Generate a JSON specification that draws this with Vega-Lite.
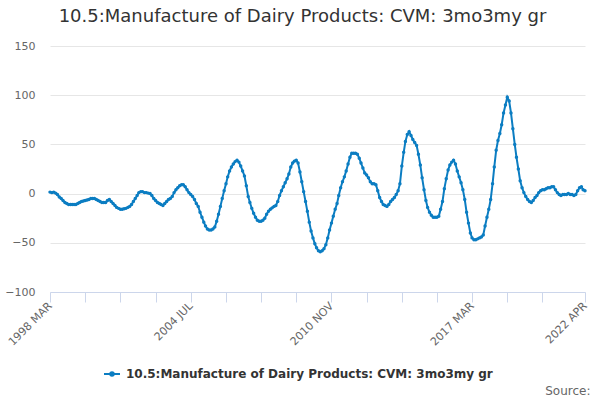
{
  "$schema": "https://vega.github.io/schema/vega-lite/v6.json",
  "autosize": "none",
  "width": 535,
  "height": 246,
  "padding": {"left": 50, "top": 46, "right": 15, "bottom": 108},
  "background": "white",
  "config": {
    "view": {"stroke": null},
    "font": "DejaVu Sans"
  },
  "title": {
    "text": "10.5:Manufacture of Dairy Products: CVM: 3mo3my gr",
    "fontSize": 18,
    "fontWeight": "normal",
    "color": "#333333",
    "font": "DejaVu Sans",
    "anchor": "middle",
    "offset": 14,
    "dx": -15
  },
  "data": {
    "format": {"parse": {"d": "utc:'%Y-%m'"}},
    "values": [
      {"d":"1998-03","v":1.5},{"d":"1998-04","v":1},{"d":"1998-05","v":1.5},{"d":"1998-06","v":0.5},{"d":"1998-07","v":-1},{"d":"1998-08","v":-3.4},{"d":"1998-09","v":-5},{"d":"1998-10","v":-7},{"d":"1998-11","v":-9},{"d":"1998-12","v":-10},
      {"d":"1999-01","v":-11},{"d":"1999-02","v":-11},{"d":"1999-03","v":-11},{"d":"1999-04","v":-11},{"d":"1999-05","v":-11},{"d":"1999-06","v":-10},{"d":"1999-07","v":-9},{"d":"1999-08","v":-8},{"d":"1999-09","v":-7.5},{"d":"1999-10","v":-7},{"d":"1999-11","v":-6.5},{"d":"1999-12","v":-6},
      {"d":"2000-01","v":-5},{"d":"2000-02","v":-5},{"d":"2000-03","v":-5},{"d":"2000-04","v":-6},{"d":"2000-05","v":-7},{"d":"2000-06","v":-8},{"d":"2000-07","v":-9},{"d":"2000-08","v":-9},{"d":"2000-09","v":-9},{"d":"2000-10","v":-7},{"d":"2000-11","v":-6},{"d":"2000-12","v":-8},
      {"d":"2001-01","v":-10},{"d":"2001-02","v":-12},{"d":"2001-03","v":-14},{"d":"2001-04","v":-15},{"d":"2001-05","v":-16},{"d":"2001-06","v":-16},{"d":"2001-07","v":-15.5},{"d":"2001-08","v":-15},{"d":"2001-09","v":-14},{"d":"2001-10","v":-13},{"d":"2001-11","v":-11},{"d":"2001-12","v":-8},
      {"d":"2002-01","v":-5},{"d":"2002-02","v":-2},{"d":"2002-03","v":1},{"d":"2002-04","v":2},{"d":"2002-05","v":2},{"d":"2002-06","v":1},{"d":"2002-07","v":1},{"d":"2002-08","v":0.5},{"d":"2002-09","v":0},{"d":"2002-10","v":-2},{"d":"2002-11","v":-5},{"d":"2002-12","v":-7},
      {"d":"2003-01","v":-9},{"d":"2003-02","v":-10},{"d":"2003-03","v":-11},{"d":"2003-04","v":-12},{"d":"2003-05","v":-10},{"d":"2003-06","v":-8},{"d":"2003-07","v":-6},{"d":"2003-08","v":-5},{"d":"2003-09","v":-3},{"d":"2003-10","v":1},{"d":"2003-11","v":4},{"d":"2003-12","v":6},
      {"d":"2004-01","v":8},{"d":"2004-02","v":9},{"d":"2004-03","v":9},{"d":"2004-04","v":7},{"d":"2004-05","v":4},{"d":"2004-06","v":1},{"d":"2004-07","v":-1},{"d":"2004-08","v":-3},{"d":"2004-09","v":-6},{"d":"2004-10","v":-10},{"d":"2004-11","v":-13},{"d":"2004-12","v":-19},
      {"d":"2005-01","v":-24},{"d":"2005-02","v":-29},{"d":"2005-03","v":-33},{"d":"2005-04","v":-36},{"d":"2005-05","v":-37},{"d":"2005-06","v":-37},{"d":"2005-07","v":-36},{"d":"2005-08","v":-34},{"d":"2005-09","v":-28},{"d":"2005-10","v":-21},{"d":"2005-11","v":-13},{"d":"2005-12","v":-5},
      {"d":"2006-01","v":3},{"d":"2006-02","v":10},{"d":"2006-03","v":17},{"d":"2006-04","v":23},{"d":"2006-05","v":27},{"d":"2006-06","v":30},{"d":"2006-07","v":32.5},{"d":"2006-08","v":34},{"d":"2006-09","v":32},{"d":"2006-10","v":28},{"d":"2006-11","v":23},{"d":"2006-12","v":18},
      {"d":"2007-01","v":8},{"d":"2007-02","v":-3},{"d":"2007-03","v":-9},{"d":"2007-04","v":-15},{"d":"2007-05","v":-20},{"d":"2007-06","v":-24},{"d":"2007-07","v":-27},{"d":"2007-08","v":-28},{"d":"2007-09","v":-28},{"d":"2007-10","v":-27},{"d":"2007-11","v":-25},{"d":"2007-12","v":-21},
      {"d":"2008-01","v":-18},{"d":"2008-02","v":-16},{"d":"2008-03","v":-14.5},{"d":"2008-04","v":-13},{"d":"2008-05","v":-12},{"d":"2008-06","v":-8},{"d":"2008-07","v":-2},{"d":"2008-08","v":3},{"d":"2008-09","v":7},{"d":"2008-10","v":11},{"d":"2008-11","v":15},{"d":"2008-12","v":20},
      {"d":"2009-01","v":27},{"d":"2009-02","v":31},{"d":"2009-03","v":33},{"d":"2009-04","v":34},{"d":"2009-05","v":31},{"d":"2009-06","v":22},{"d":"2009-07","v":12},{"d":"2009-08","v":2},{"d":"2009-09","v":-8},{"d":"2009-10","v":-18},{"d":"2009-11","v":-29},{"d":"2009-12","v":-38},
      {"d":"2010-01","v":-45},{"d":"2010-02","v":-51},{"d":"2010-03","v":-55},{"d":"2010-04","v":-58},{"d":"2010-05","v":-59},{"d":"2010-06","v":-58},{"d":"2010-07","v":-56},{"d":"2010-08","v":-52},{"d":"2010-09","v":-45},{"d":"2010-10","v":-37},{"d":"2010-11","v":-30},{"d":"2010-12","v":-23},
      {"d":"2011-01","v":-16},{"d":"2011-02","v":-10},{"d":"2011-03","v":-2},{"d":"2011-04","v":6},{"d":"2011-05","v":12},{"d":"2011-06","v":17},{"d":"2011-07","v":23},{"d":"2011-08","v":30},{"d":"2011-09","v":37},{"d":"2011-10","v":41},{"d":"2011-11","v":41},{"d":"2011-12","v":41},
      {"d":"2012-01","v":40},{"d":"2012-02","v":36},{"d":"2012-03","v":31},{"d":"2012-04","v":26},{"d":"2012-05","v":21},{"d":"2012-06","v":19},{"d":"2012-07","v":16},{"d":"2012-08","v":12},{"d":"2012-09","v":10},{"d":"2012-10","v":10},{"d":"2012-11","v":9},{"d":"2012-12","v":3},
      {"d":"2013-01","v":-4},{"d":"2013-02","v":-8},{"d":"2013-03","v":-11},{"d":"2013-04","v":-12},{"d":"2013-05","v":-13},{"d":"2013-06","v":-11},{"d":"2013-07","v":-8},{"d":"2013-08","v":-6},{"d":"2013-09","v":-4},{"d":"2013-10","v":-1},{"d":"2013-11","v":3},{"d":"2013-12","v":10},
      {"d":"2014-01","v":28},{"d":"2014-02","v":42},{"d":"2014-03","v":53},{"d":"2014-04","v":60},{"d":"2014-05","v":63},{"d":"2014-06","v":59},{"d":"2014-07","v":55},{"d":"2014-08","v":52},{"d":"2014-09","v":49},{"d":"2014-10","v":40},{"d":"2014-11","v":29},{"d":"2014-12","v":16},
      {"d":"2015-01","v":4},{"d":"2015-02","v":-7},{"d":"2015-03","v":-14},{"d":"2015-04","v":-19},{"d":"2015-05","v":-22},{"d":"2015-06","v":-24},{"d":"2015-07","v":-24},{"d":"2015-08","v":-24},{"d":"2015-09","v":-23},{"d":"2015-10","v":-16},{"d":"2015-11","v":-8},{"d":"2015-12","v":5},
      {"d":"2016-01","v":15},{"d":"2016-02","v":24},{"d":"2016-03","v":29},{"d":"2016-04","v":32},{"d":"2016-05","v":34},{"d":"2016-06","v":30},{"d":"2016-07","v":23},{"d":"2016-08","v":17},{"d":"2016-09","v":11},{"d":"2016-10","v":4},{"d":"2016-11","v":-6},{"d":"2016-12","v":-19},
      {"d":"2017-01","v":-30},{"d":"2017-02","v":-40},{"d":"2017-03","v":-45},{"d":"2017-04","v":-47},{"d":"2017-05","v":-47},{"d":"2017-06","v":-46},{"d":"2017-07","v":-45},{"d":"2017-08","v":-44},{"d":"2017-09","v":-42},{"d":"2017-10","v":-33},{"d":"2017-11","v":-24},{"d":"2017-12","v":-16},
      {"d":"2018-01","v":-6},{"d":"2018-02","v":10},{"d":"2018-03","v":27},{"d":"2018-04","v":44},{"d":"2018-05","v":54},{"d":"2018-06","v":61},{"d":"2018-07","v":70},{"d":"2018-08","v":82},{"d":"2018-09","v":90},{"d":"2018-10","v":98},{"d":"2018-11","v":94},{"d":"2018-12","v":82},
      {"d":"2019-01","v":66},{"d":"2019-02","v":50},{"d":"2019-03","v":37},{"d":"2019-04","v":25},{"d":"2019-05","v":13},{"d":"2019-06","v":6},{"d":"2019-07","v":1},{"d":"2019-08","v":-3},{"d":"2019-09","v":-6},{"d":"2019-10","v":-8},{"d":"2019-11","v":-9},{"d":"2019-12","v":-7},
      {"d":"2020-01","v":-4},{"d":"2020-02","v":-2},{"d":"2020-03","v":1},{"d":"2020-04","v":3},{"d":"2020-05","v":4},{"d":"2020-06","v":4},{"d":"2020-07","v":5},{"d":"2020-08","v":6},{"d":"2020-09","v":6},{"d":"2020-10","v":7},{"d":"2020-11","v":7},{"d":"2020-12","v":4},
      {"d":"2021-01","v":1},{"d":"2021-02","v":-1},{"d":"2021-03","v":-2},{"d":"2021-04","v":-1},{"d":"2021-05","v":-1},{"d":"2021-06","v":-1},{"d":"2021-07","v":0},{"d":"2021-08","v":-1},{"d":"2021-09","v":-1},{"d":"2021-10","v":-2},{"d":"2021-11","v":-1},{"d":"2021-12","v":3},
      {"d":"2022-01","v":6},{"d":"2022-02","v":7},{"d":"2022-03","v":4},{"d":"2022-04","v":3}
    ]
  },
  "mark": {
    "type": "line",
    "strokeWidth": 2,
    "interpolate": "linear",
    "point": {"filled": true, "size": 12}
  },
  "encoding": {
    "x": {
      "field": "d",
      "type": "temporal",
      "scale": {
        "domain": [
          {"year": 1998, "month": 3, "date": 1, "utc": true},
          {"year": 2022, "month": 4, "date": 1, "utc": true}
        ],
        "nice": false
      },
      "axis": {
        "title": "Source:",
        "titleX": 540,
        "titleY": 102,
        "titleAlign": "right",
        "titleAnchor": "end",
        "titleBaseline": "alphabetic",
        "titleFontSize": 12,
        "titleFontWeight": "normal",
        "titleColor": "#666666",
        "titleFont": "DejaVu Sans",
        "values": [
          {"year": 1998, "month": 3, "date": 1, "utc": true},
          {"year": 1999, "month": 10, "date": 1, "utc": true},
          {"year": 2001, "month": 5, "date": 1, "utc": true},
          {"year": 2002, "month": 12, "date": 1, "utc": true},
          {"year": 2004, "month": 7, "date": 1, "utc": true},
          {"year": 2006, "month": 2, "date": 1, "utc": true},
          {"year": 2007, "month": 9, "date": 1, "utc": true},
          {"year": 2009, "month": 4, "date": 1, "utc": true},
          {"year": 2010, "month": 11, "date": 1, "utc": true},
          {"year": 2012, "month": 6, "date": 1, "utc": true},
          {"year": 2014, "month": 1, "date": 1, "utc": true},
          {"year": 2015, "month": 8, "date": 1, "utc": true},
          {"year": 2017, "month": 3, "date": 1, "utc": true},
          {"year": 2018, "month": 10, "date": 1, "utc": true},
          {"year": 2020, "month": 5, "date": 1, "utc": true},
          {"year": 2022, "month": 4, "date": 1, "utc": true}
        ],
        "labelExpr": "indexof(['1998-03','2004-07','2010-11','2017-03','2022-04'], utcFormat(datum.value, '%Y-%m')) >= 0 ? upper(utcFormat(datum.value, '%Y %b')) : ''",
        "labelAngle": -45,
        "labelAlign": "right",
        "labelBaseline": "middle",
        "labelFontSize": 11,
        "labelColor": "#666666",
        "labelFont": "DejaVu Sans",
        "labelPadding": 2,
        "labelOverlap": false,
        "labelFlush": false,
        "grid": false,
        "domainColor": "#ccd6eb",
        "domainWidth": 1,
        "tickColor": "#ccd6eb",
        "tickSize": 10,
        "tickWidth": 1
      }
    },
    "y": {
      "field": "v",
      "type": "quantitative",
      "scale": {"domain": [-100, 150], "nice": false, "zero": false},
      "axis": {
        "title": null,
        "values": [-100, -50, 0, 50, 100, 150],
        "domain": false,
        "ticks": false,
        "labelPadding": 15,
        "labelFontSize": 11,
        "labelColor": "#666666",
        "labelFont": "DejaVu Sans",
        "gridColor": "#e6e6e6",
        "gridWidth": 1
      }
    },
    "color": {
      "datum": "10.5:Manufacture of Dairy Products: CVM: 3mo3my gr",
      "type": "nominal",
      "scale": {"range": ["#0b7dc2"]},
      "legend": {
        "title": null,
        "orient": "none",
        "legendX": 53,
        "legendY": 319,
        "symbolType": "M-1,0L1,0M-0.22,0A0.22,0.22,0,1,0,0.22,0A0.22,0.22,0,1,0,-0.22,0Z",
        "symbolSize": 256,
        "symbolStrokeWidth": 2,
        "symbolStrokeColor": "#0b7dc2",
        "symbolFillColor": "#0b7dc2",
        "labelFont": "DejaVu Sans",
        "labelFontSize": 12,
        "labelFontWeight": "bold",
        "labelColor": "#333333",
        "labelLimit": 600,
        "labelOffset": 5
      }
    }
  }
}
